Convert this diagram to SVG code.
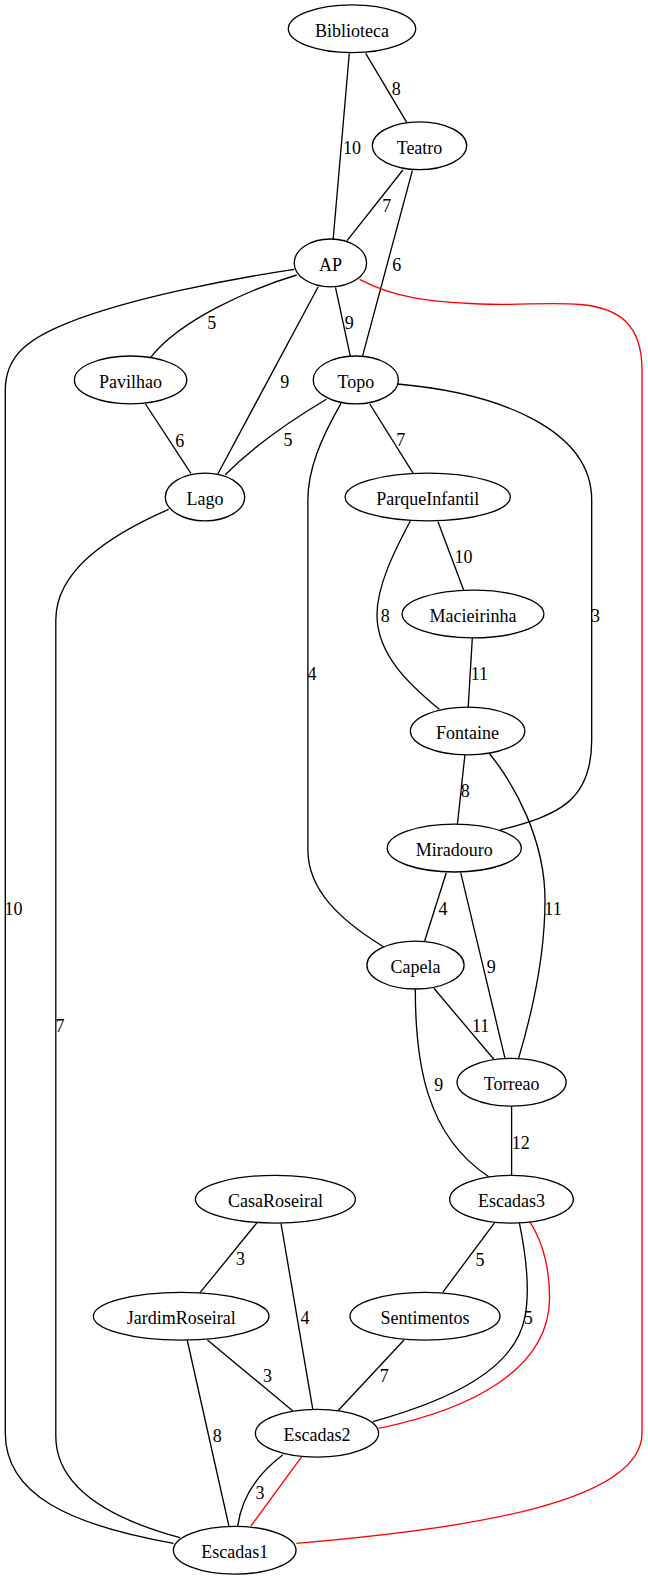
<svg xmlns="http://www.w3.org/2000/svg" width="648" height="1580" viewBox="0 0 648 1580">
  <style>
    .node ellipse { fill: none; stroke: #000; stroke-width: 1.33; }
    .node text { font-family: "Liberation Serif", "Times New Roman", serif; font-size: 18px; text-anchor: middle; fill: #000; }
    .edge { fill: none; stroke: #000; stroke-width: 1.33; }
    .edge.red { stroke: #ff0000; }
    .lbl { font-family: "Liberation Serif", "Times New Roman", serif; font-size: 18px; text-anchor: middle; fill: #000; }
  </style>
  <rect x="0" y="0" width="648" height="1580" fill="#ffffff"/>

  <g id="connectors">
    <!-- Biblioteca -->
    <path class="edge" d="M349.3,53.3 L333.2,239"/>
    <text class="lbl" x="352" y="154">10</text>
    <path class="edge" d="M365.7,53.3 L406.7,122.3"/>
    <text class="lbl" x="396.3" y="95">8</text>

    <!-- Teatro -->
    <path class="edge" d="M402.9,170 L347.1,240.7"/>
    <text class="lbl" x="386.8" y="212">7</text>
    <path class="edge" d="M412.4,170.3 L362.4,356.7"/>
    <text class="lbl" x="396.7" y="271">6</text>

    <!-- AP -->
    <path class="edge" d="M335.5,287.3 L350.4,356.7"/>
    <text class="lbl" x="349.2" y="329.3">9</text>
    <path class="edge" d="M296.7,275 C250,289 180,320 150.7,357.3"/>
    <text class="lbl" x="211.7" y="329">5</text>
    <path class="edge" d="M318.2,286.7 L217.8,474"/>
    <text class="lbl" x="284.7" y="388">9</text>
    <path class="edge" d="M294.2,269.3 C230,279 130,298 66.7,323.3 C30,338 5.3,355 5.3,390 L5.3,1433 C5.3,1495 70,1525 173.6,1543.3"/>
    <text class="lbl" x="13.6" y="915">10</text>
    <path class="edge red" d="M359.5,279.3 C395,298 430,302 480,304 C520,305.5 550,302 580,304.5 C620,308 642,325 642,370 L642,1433 C642,1500 480,1528 296.3,1543.3"/>

    <!-- Pavilhao / Topo / Lago -->
    <path class="edge" d="M145.5,404 L190.9,473.3"/>
    <text class="lbl" x="179.8" y="446.7">6</text>
    <path class="edge" d="M326.4,399.3 C300,415 260,440 225.2,474.7"/>
    <text class="lbl" x="288" y="445.7">5</text>
    <path class="edge" d="M341,403.3 C320,440 307.9,470 307.9,500 L307.9,850 C307.9,890 340,920 383.5,946.7"/>
    <text class="lbl" x="312" y="680">4</text>
    <path class="edge" d="M369.8,404 L413.2,473.3"/>
    <text class="lbl" x="400.8" y="445.7">7</text>
    <path class="edge" d="M397.5,384 C500,393 591.7,430 591.7,500 L591.7,740 C591.7,800 560,815 500,830"/>
    <text class="lbl" x="595.5" y="621.7">3</text>
    <path class="edge" d="M168.6,509.3 C110,535 55.8,570 55.8,620 L55.8,1436 C55.8,1490 115,1520 180,1537.7"/>
    <text class="lbl" x="60" y="1031.7">7</text>

    <!-- ParqueInfantil / Macieirinha / Fontaine -->
    <path class="edge" d="M438,521.7 L463.6,590"/>
    <text class="lbl" x="463.4" y="563.3">10</text>
    <path class="edge" d="M410.3,521 C395,550 377,585 377,615 C377,655 410,685 439.3,709.3"/>
    <text class="lbl" x="385.2" y="621.7">8</text>
    <path class="edge" d="M472.3,638.3 L468.2,707.3"/>
    <text class="lbl" x="479.3" y="680">11</text>
    <path class="edge" d="M464.9,755 L457.4,824.3"/>
    <text class="lbl" x="465.3" y="797">8</text>
    <path class="edge" d="M489.7,754 C515,785 545,840 545,900 C545,960 530,1020 518.6,1058.3"/>
    <text class="lbl" x="553" y="915">11</text>

    <!-- Miradouro / Capela / Torreao -->
    <path class="edge" d="M446.3,872.7 L424.4,941.7"/>
    <text class="lbl" x="443" y="915">4</text>
    <path class="edge" d="M460.7,872.7 L505,1058.3"/>
    <text class="lbl" x="491.3" y="973.3">9</text>
    <path class="edge" d="M433.9,988.3 L493.8,1059.3"/>
    <text class="lbl" x="480.6" y="1032">11</text>
    <path class="edge" d="M415.3,989.3 C415.3,1060 425,1135 488.8,1176.7"/>
    <text class="lbl" x="438.8" y="1090.7">9</text>
    <path class="edge" d="M511.6,1106 L511.6,1175.3"/>
    <text class="lbl" x="520.7" y="1149.3">12</text>

    <!-- Roseiral -->
    <path class="edge" d="M257,1222.7 L200,1292.7"/>
    <text class="lbl" x="240.5" y="1265">3</text>
    <path class="edge" d="M281,1223.3 L312.8,1409.3"/>
    <text class="lbl" x="305" y="1324">4</text>
    <path class="edge" d="M207.4,1340 L292.6,1410.7"/>
    <text class="lbl" x="267.4" y="1381.7">3</text>
    <path class="edge" d="M187.2,1340 L229,1526.5"/>
    <text class="lbl" x="217.2" y="1441.7">8</text>

    <!-- Escadas3 / Sentimentos / Escadas2 / Escadas1 -->
    <path class="edge" d="M494.7,1222.7 L442.7,1292.3"/>
    <text class="lbl" x="480" y="1265.7">5</text>
    <path class="edge" d="M404,1340 L338,1410.7"/>
    <text class="lbl" x="384.3" y="1381.7">7</text>
    <path class="edge" d="M519.3,1222.7 C526,1255 530,1290 525,1316.7 C515,1370 450,1400 373,1421.7"/>
    <text class="lbl" x="528.3" y="1324">5</text>
    <path class="edge red" d="M529.7,1221.7 C545,1245 550,1275 549.5,1300 C548,1370 470,1410 378.5,1428.3"/>
    <path class="edge" d="M282.7,1455 C260,1472 242,1495 237.7,1526"/>
    <text class="lbl" x="260" y="1499.3">3</text>
    <path class="edge red" d="M301.7,1456.7 L251,1526"/>
  </g>

  <g id="Biblioteca" class="node"><ellipse cx="352" cy="28.8" rx="63.7" ry="23.9"/><text x="352" y="36.5">Biblioteca</text></g>
  <g id="Teatro" class="node"><ellipse cx="419.5" cy="145.8" rx="47.2" ry="23.9"/><text x="419.5" y="153.5">Teatro</text></g>
  <g id="AP" class="node"><ellipse cx="330.4" cy="262.9" rx="36.2" ry="23.9"/><text x="330.4" y="270.6">AP</text></g>
  <g id="Pavilhao" class="node"><ellipse cx="130.6" cy="379.9" rx="56.2" ry="23.9"/><text x="130.6" y="387.6">Pavilhao</text></g>
  <g id="Topo" class="node"><ellipse cx="355.8" cy="379.9" rx="42.6" ry="23.9"/><text x="355.8" y="387.6">Topo</text></g>
  <g id="Lago" class="node"><ellipse cx="205" cy="497" rx="39.7" ry="23.9"/><text x="205" y="504.7">Lago</text></g>
  <g id="ParqueInfantil" class="node"><ellipse cx="427.7" cy="497" rx="82.6" ry="23.9"/><text x="427.7" y="504.7">ParqueInfantil</text></g>
  <g id="Macieirinha" class="node"><ellipse cx="473" cy="614" rx="70.9" ry="23.9"/><text x="473" y="621.7">Macieirinha</text></g>
  <g id="Fontaine" class="node"><ellipse cx="467.6" cy="731" rx="57.2" ry="23.9"/><text x="467.6" y="738.7">Fontaine</text></g>
  <g id="Miradouro" class="node"><ellipse cx="454.3" cy="848.1" rx="67.1" ry="23.9"/><text x="454.3" y="855.8">Miradouro</text></g>
  <g id="Capela" class="node"><ellipse cx="415.5" cy="965.1" rx="48.6" ry="23.9"/><text x="415.5" y="972.8">Capela</text></g>
  <g id="Torreao" class="node"><ellipse cx="511.6" cy="1082.2" rx="54.5" ry="23.9"/><text x="511.6" y="1089.9">Torreao</text></g>
  <g id="CasaRoseiral" class="node"><ellipse cx="275.4" cy="1199.2" rx="80" ry="23.9"/><text x="275.4" y="1206.9">CasaRoseiral</text></g>
  <g id="Escadas3" class="node"><ellipse cx="511.5" cy="1199.2" rx="61.8" ry="23.9"/><text x="511.5" y="1206.9">Escadas3</text></g>
  <g id="JardimRoseiral" class="node"><ellipse cx="181.2" cy="1316.2" rx="87.8" ry="23.9"/><text x="181.2" y="1323.9">JardimRoseiral</text></g>
  <g id="Sentimentos" class="node"><ellipse cx="425" cy="1316.2" rx="75" ry="23.9"/><text x="425" y="1323.9">Sentimentos</text></g>
  <g id="Escadas2" class="node"><ellipse cx="317" cy="1433.3" rx="61.6" ry="23.9"/><text x="317" y="1441">Escadas2</text></g>
  <g id="Escadas1" class="node"><ellipse cx="234.7" cy="1550.3" rx="61.3" ry="23.9"/><text x="234.7" y="1558">Escadas1</text></g>
</svg>
